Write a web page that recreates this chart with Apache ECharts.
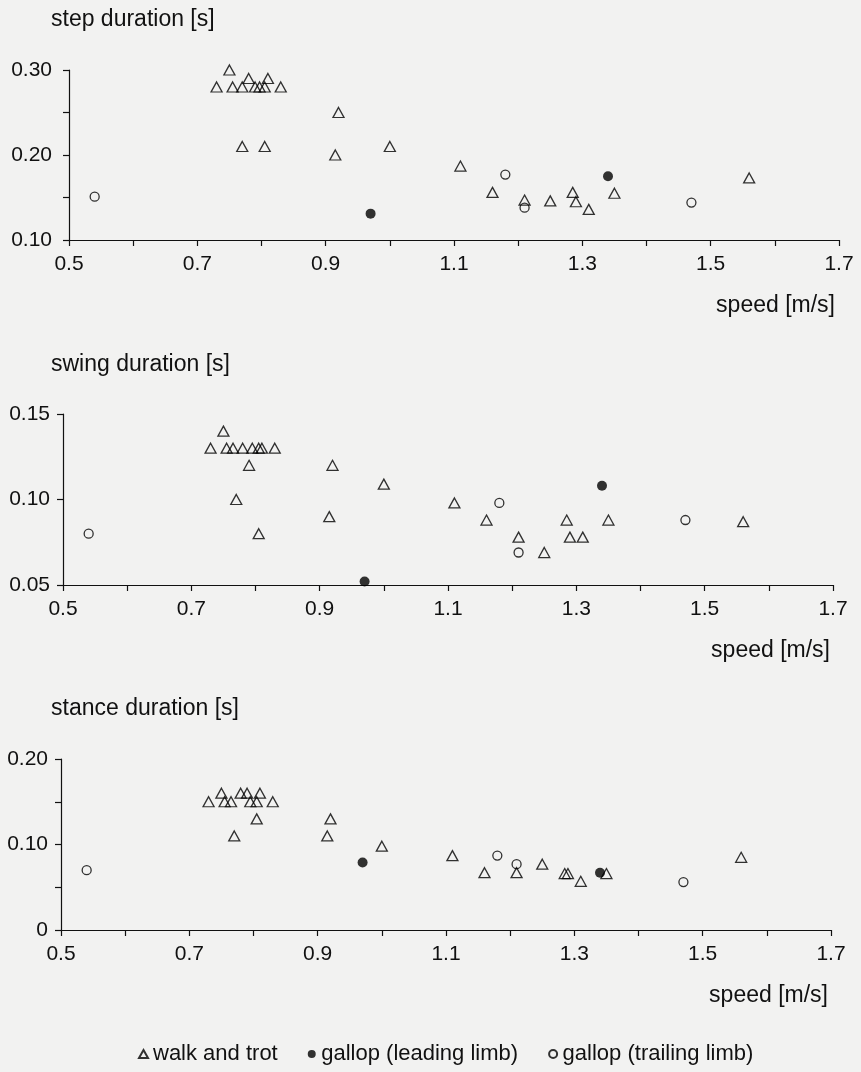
<!DOCTYPE html>
<html lang="en">
<head>
  <meta http-equiv="Content-Type" content="text/html; charset=UTF-8">
  <title>step, swing and stance duration</title>
  <style>html, body { margin: 0; background: #f2f2f1; }</style>
</head>
<body>
  <div id="chart" style="width: 861px; height: 1072px;"></div>
  <script src="https://cdn.jsdelivr.net/npm/echarts@6/dist/echarts.min.js"></script>
  <script>
    // speed [m/s], duration [s]
    const xTickLabels = ['0.5', '0.7', '0.9', '1.1', '1.3', '1.5', '1.7'];
    const seriesNames = ['walk and trot', 'gallop (leading limb)', 'gallop (trailing limb)'];

    const stepWalk = [[0.73, 0.28], [0.75, 0.30], [0.755, 0.28], [0.77, 0.28], [0.78, 0.29], [0.79, 0.28],
      [0.797, 0.28], [0.805, 0.28], [0.81, 0.29], [0.83, 0.28], [0.77, 0.21], [0.805, 0.21], [0.92, 0.25],
      [0.915, 0.20], [1.00, 0.21], [1.11, 0.187], [1.16, 0.156], [1.21, 0.147], [1.25, 0.146], [1.285, 0.156],
      [1.29, 0.145], [1.31, 0.136], [1.35, 0.155], [1.56, 0.173]];
    const stepLead = [[0.97, 0.131], [1.34, 0.175]];
    const stepTrail = [[0.54, 0.151], [1.18, 0.177], [1.21, 0.138], [1.47, 0.144]];
    const stepYLabels = ['0.10', '0.20', '0.30'];

    const swingWalk = [[0.73, 0.13], [0.75, 0.14], [0.755, 0.13], [0.765, 0.13], [0.78, 0.13], [0.795, 0.13],
      [0.805, 0.13], [0.81, 0.13], [0.83, 0.13], [0.79, 0.12], [0.77, 0.10], [0.805, 0.08], [0.92, 0.12],
      [0.915, 0.09], [1.00, 0.109], [1.11, 0.098], [1.16, 0.088], [1.21, 0.078], [1.25, 0.069], [1.285, 0.088],
      [1.29, 0.078], [1.31, 0.078], [1.35, 0.088], [1.56, 0.087]];
    const swingLead = [[0.97, 0.052], [1.34, 0.108]];
    const swingTrail = [[0.54, 0.080], [1.18, 0.098], [1.21, 0.069], [1.47, 0.088]];
    const swingYLabels = ['0.05', '0.10', '0.15'];

    const stanceWalk = [[0.73, 0.15], [0.75, 0.16], [0.755, 0.15], [0.765, 0.15], [0.78, 0.16], [0.79, 0.16],
      [0.795, 0.15], [0.805, 0.15], [0.81, 0.16], [0.83, 0.15], [0.805, 0.13], [0.77, 0.11], [0.92, 0.13],
      [0.915, 0.11], [1.00, 0.098], [1.11, 0.087], [1.16, 0.067], [1.21, 0.067], [1.25, 0.077], [1.285, 0.066],
      [1.29, 0.066], [1.31, 0.057], [1.35, 0.066], [1.56, 0.085]];
    const stanceLead = [[0.97, 0.079], [1.34, 0.067]];
    const stanceTrail = [[0.54, 0.070], [1.18, 0.087], [1.21, 0.077], [1.47, 0.056]];
    const stanceYLabels = ['0', '0.10', '0.20'];

    const ink = '#111';
    const font = '"Liberation Sans", Arial, sans-serif';

    const panels = [
      { title: 'step duration [s]', grid: { left: 69, top: 70, width: 770, height: 170 },
        yMin: 0.10, yMax: 0.30, yLabels: stepYLabels, yMargin: 17, titleY: 20, nameX: 835,
        data: [stepWalk, stepLead, stepTrail] },
      { title: 'swing duration [s]', grid: { left: 63, top: 414, width: 770, height: 171 },
        yMin: 0.05, yMax: 0.15, yLabels: swingYLabels, yMargin: 13, titleY: 365, nameX: 830,
        data: [swingWalk, swingLead, swingTrail] },
      { title: 'stance duration [s]', grid: { left: 61, top: 759, width: 770, height: 171 },
        yMin: 0, yMax: 0.20, yLabels: stanceYLabels, yMargin: 13, titleY: 709, nameX: 828,
        data: [stanceWalk, stanceLead, stanceTrail] }
    ];

    const markerStyles = [
      { symbol: 'triangle', symbolSize: [11, 10], itemStyle: { color: 'rgba(0,0,0,0)', borderColor: '#000', borderWidth: 1.3 } },
      { symbol: 'circle', symbolSize: 10, itemStyle: { color: '#000', borderColor: '#000', borderWidth: 0 } },
      { symbol: 'circle', symbolSize: 9, itemStyle: { color: 'rgba(0,0,0,0)', borderColor: '#000', borderWidth: 1.3 } }
    ];

    const axisLine = { show: true, lineStyle: { color: ink, width: 1.2 } };
    const axisTick = { show: true, length: 6, lineStyle: { color: ink, width: 1.2 } };
    const labelText = { color: ink, fontSize: 21, fontFamily: font };

    const grid = [], xAxis = [], yAxis = [], series = [], graphic = [];
    panels.forEach((p, i) => {
      grid.push(p.grid);
      xAxis.push({
        type: 'value', gridIndex: i, min: 0.5, max: 1.7, interval: 0.1,
        axisLine, axisTick, splitLine: { show: false },
        axisLabel: Object.assign({
          margin: 14, showMinLabel: true, showMaxLabel: true,
          formatter: (v) => { const s = v.toFixed(1); return xTickLabels.includes(s) ? s : ''; }
        }, labelText)
      });
      yAxis.push({
        type: 'value', gridIndex: i, min: p.yMin, max: p.yMax, interval: 0.05,
        axisLine, axisTick, splitLine: { show: false },
        axisLabel: Object.assign({
          margin: p.yMargin, showMinLabel: true, showMaxLabel: true,
          formatter: (v) => { const s = Math.abs(v) < 1e-9 ? '0' : v.toFixed(2); return p.yLabels.includes(s) ? s : ''; }
        }, labelText)
      });
      p.data.forEach((d, k) => {
        series.push(Object.assign({
          name: seriesNames[k], type: 'scatter', xAxisIndex: i, yAxisIndex: i, data: d, z: k === 0 ? 2 : 3
        }, markerStyles[k]));
      });
      graphic.push({
        type: 'text', left: 51, top: p.titleY - 12,
        style: { text: p.title, fill: ink, font: '23px ' + font }
      });
      graphic.push({
        type: 'text', x: p.nameX, y: p.grid.top + p.grid.height + 66,
        style: { text: 'speed [m/s]', fill: ink, font: '23px ' + font, align: 'right', verticalAlign: 'middle' }
      });
    });

    const myChart = echarts.init(document.getElementById('chart'));
    const option = {
      backgroundColor: '#f2f2f1',
      animation: false,
      grid, xAxis, yAxis, series, graphic,
      legend: {
        data: [
          { name: seriesNames[0], icon: 'triangle' },
          { name: seriesNames[1], icon: 'circle' },
          { name: seriesNames[2], icon: 'circle' }
        ],
        left: 133, top: 1038,
        itemWidth: 9, itemHeight: 8, itemGap: 30,
        textStyle: { color: ink, fontSize: 22, fontFamily: font }
      }
    };
    myChart.setOption(option);
  </script>
</body>
</html>
